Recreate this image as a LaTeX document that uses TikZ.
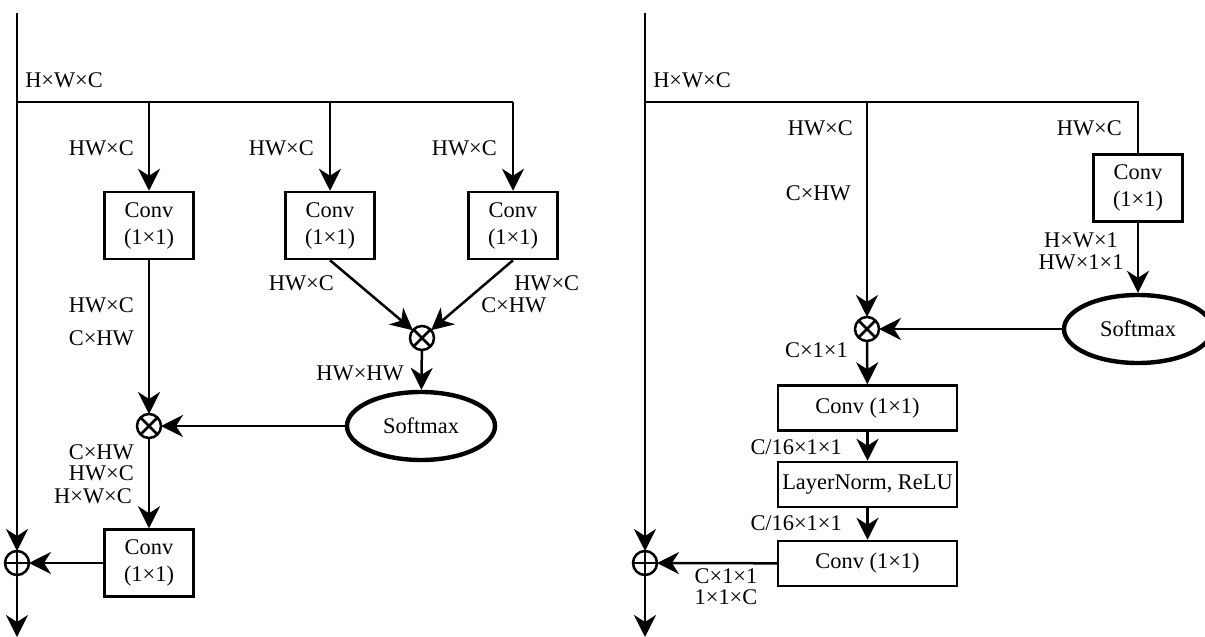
\documentclass[tikz,border=0pt]{standalone}
\usepackage{fontspec}
\setmainfont{Liberation Serif}
\usetikzlibrary{arrows.meta,shapes.geometric}
\begin{document}
\begin{tikzpicture}[x=0.5pt,y=-0.5pt,
  line width=1.25pt,
  every node/.style={font=\fontsize{11.2}{13.5}\selectfont},
  arr/.style={-{Stealth[length=11pt,width=11pt,inset=3.5pt]}},
  box/.style={draw, line width=1.25pt, minimum width=44.5pt, minimum height=33.5pt, align=center, inner sep=1pt},
  wbox/.style={draw, line width=1.25pt, minimum width=89.5pt, minimum height=22.5pt, inner sep=1pt},
  sm/.style={draw, ellipse, line width=2.2pt, minimum width=74pt, minimum height=34pt, inner sep=0pt},
  op/.style={draw, circle, line width=1.25pt, minimum size=12pt, inner sep=0pt, outer sep=0pt},
  lbl/.style={inner sep=0pt},
]
\path[use as bounding box] (0,0) rectangle (1205,637);
\clip (0,0) rectangle (1205,637);

% ---------------- left diagram ----------------
\coordinate (tL) at (17,13);
\coordinate (jL) at (17,102);
\coordinate (bL) at (17,637);
\coordinate (s1) at (149,102);
\coordinate (s2) at (330,102);
\coordinate (s3) at (513,102);

\node[box] (c1) at (149,225.5) {Conv\\(1×1)};
\node[box] (c2) at (330,225.5) {Conv\\(1×1)};
\node[box] (c3) at (513,225.5) {Conv\\(1×1)};
\node[op] (m1) at (422,338) {};
\node[sm] (sm1) at (421,426) {Softmax};
\node[op] (m2) at (149,426) {};
\node[box] (c4) at (149,563) {Conv\\(1×1)};
\node[op] (a1) at (17,563) {};

\draw (m1.north west) -- (m1.south east) (m1.north east) -- (m1.south west);
\draw (m2.north west) -- (m2.south east) (m2.north east) -- (m2.south west);
\draw (a1.north) -- (a1.south) (a1.west) -- (a1.east);

\draw[arr] (tL) -- (a1);
\draw[arr] (a1) -- (bL);
\draw (jL) -- (s3);
\draw[arr] (s1) -- (c1);
\draw[arr] (s2) -- (c2);
\draw[arr] (s3) -- (c3);
\draw[arr] (c2.south) -- (m1);
\draw[arr] (c3.south) -- (m1);
\draw[arr] (m1) -- (sm1);
\draw[arr] (c1) -- (m2);
\draw[arr] (sm1) -- (m2);
\draw[arr] (m2) -- (c4);
\draw[arr] (c4) -- (a1);

\node[lbl, anchor=west] (l1) at (24,80) {H×W×C};
\node[lbl, anchor=east] (l2) at (135,148) {HW×C};
\node[lbl, anchor=east] (l3) at (315,148) {HW×C};
\node[lbl, anchor=east] (l4) at (498,148) {HW×C};
\node[lbl, anchor=east] (l5) at (335,283) {HW×C};
\node[lbl, anchor=west] (l6) at (513,283) {HW×C};
\node[lbl, anchor=west] (l7) at (480,305) {C×HW};
\node[lbl, anchor=east] (l8) at (135,305) {HW×C};
\node[lbl, anchor=east] (l9) at (135,338) {C×HW};
\node[lbl, anchor=east] (l10) at (405,373) {HW×HW};
\node[lbl, anchor=east] (l11) at (135,452) {C×HW};
\node[lbl, anchor=east] (l12) at (135,473) {HW×C};
\node[lbl, anchor=east] (l13) at (133,496) {H×W×C};

% ---------------- right diagram ----------------
\coordinate (tR) at (645,13);
\coordinate (jR) at (645,102);
\coordinate (bR) at (645,637);
\coordinate (s4) at (867,102);
\coordinate (s5) at (1138,102);

\node[box] (c5) at (1138,188) {Conv\\(1×1)};
\node[sm] (sm2) at (1138,329) {Softmax};
\node[op] (m3) at (867,329) {};
\node[wbox] (c6) at (867.5,408) {Conv (1×1)};
\node[wbox] (ln) at (867.5,484.5) {LayerNorm, ReLU};
\node[wbox] (c7) at (867.5,563.5) {Conv (1×1)};
\node[op] (a2) at (645,563) {};

\draw (m3.north west) -- (m3.south east) (m3.north east) -- (m3.south west);
\draw (a2.north) -- (a2.south) (a2.west) -- (a2.east);

\draw[arr] (tR) -- (a2);
\draw[arr] (a2) -- (bR);
\draw (jR) -- (s5) -- (c5.north);
\draw[arr] (s4) -- (m3);
\draw[arr] (c5) -- (sm2);
\draw[arr] (sm2) -- (m3);
\draw[arr] (m3) -- (c6);
\draw[arr] (c6) -- (ln);
\draw[arr] (ln) -- (c7);
\draw[arr] (c7) -- (a2);

\node[lbl, anchor=west] (r1) at (652,80) {H×W×C};
\node[lbl, anchor=east] (r2) at (854,128) {HW×C};
\node[lbl, anchor=east] (r3) at (852,193) {C×HW};
\node[lbl, anchor=east] (r4) at (1123,128) {HW×C};
\node[lbl] (r5) at (1081,240) {H×W×1};
\node[lbl] (r6) at (1081,262) {HW×1×1};
\node[lbl, anchor=east] (r7) at (849,350) {C×1×1};
\node[lbl, anchor=east] (r8) at (843,447) {C/16×1×1};
\node[lbl, anchor=east] (r9) at (843,523) {C/16×1×1};
\node[lbl] (r10) at (726,576) {C×1×1};
\node[lbl] (r11) at (726,597) {1×1×C};
\end{tikzpicture}
\end{document}
